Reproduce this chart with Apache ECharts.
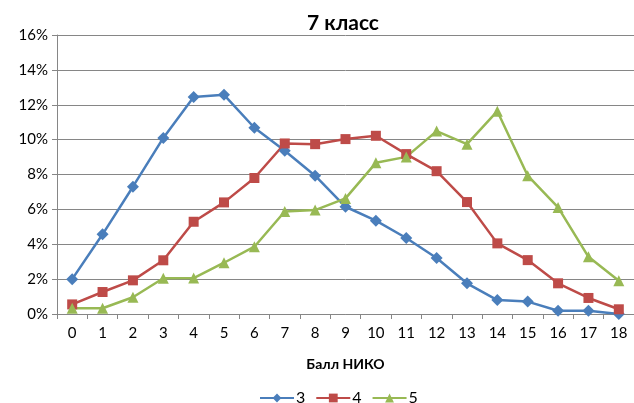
<!DOCTYPE html>
<html><head><meta charset="utf-8">
<script src="https://cdn.jsdelivr.net/npm/echarts@6/dist/echarts.min.js"></script>
<style>html,body{margin:0;padding:0;background:#fff}#c{width:634px;height:403px}</style>
</head><body><div id="c"></div>
<script>
const categories = ['0','1','2','3','4','5','6','7','8','9','10','11','12','13','14','15','16','17','18'];
const s3 = [2.0,4.57,7.3,10.1,12.45,12.57,10.68,9.36,7.93,6.15,5.35,4.36,3.21,1.76,0.80,0.71,0.19,0.19,0.0];
const s4 = [0.55,1.26,1.93,3.08,5.29,6.4,7.8,9.78,9.74,10.03,10.22,9.17,8.19,6.42,4.05,3.09,1.76,0.92,0.27];
const s5 = [0.33,0.33,0.96,2.05,2.06,2.94,3.86,5.88,5.96,6.63,8.67,9.01,10.49,9.74,11.63,7.93,6.11,3.28,1.91];
const seriesNames = ['3','4','5'];
const yTicks = {min:0, max:16, interval:2};

const font = 'Lato, "Open Sans", sans-serif';
const chart = echarts.init(document.getElementById('c'));
function mk(name, data, color, symbol, size){
  return {name, type:'line', data, symbol, symbolSize:size, color,
    lineStyle:{width:2.5, color}, itemStyle:{color}, animation:false};
}
chart.setOption({
  animation:false,
  textStyle:{fontFamily:font},
  title:{text:'7 класс', left:338, top:8, textAlign:'center',
    textStyle:{fontFamily:font, fontSize:21, fontWeight:'bold', color:'#000'}},
  grid:{left:57, right:0, top:35, bottom:89, containLabel:false},
  legend:{data:seriesNames, top:385, left:254, itemWidth:34, itemHeight:11, itemGap:10,
    textStyle:{fontFamily:font, fontSize:16, color:'#000', padding:[0,0,0,-3]}},
  xAxis:{type:'category', data:categories, boundaryGap:true,
    name:'Балл НИКО', nameLocation:'middle', nameGap:43,
    nameTextStyle:{fontFamily:font, fontSize:14, fontWeight:'bold', color:'#000'},
    axisLine:{lineStyle:{color:'#868686', width:1}},
    axisTick:{show:true, length:5, lineStyle:{color:'#868686'}, alignWithLabel:false},
    axisLabel:{fontFamily:font, fontSize:15, color:'#000', margin:12, interval:0}},
  yAxis:{type:'value', min:yTicks.min, max:yTicks.max, interval:yTicks.interval,
    axisLine:{show:true, lineStyle:{color:'#868686'}},
    axisTick:{show:true, length:5, lineStyle:{color:'#868686'}},
    splitLine:{lineStyle:{color:'#868686', width:1}},
    axisLabel:{formatter:'{value}%', fontFamily:font, fontSize:15, color:'#000', margin:9}},
  series:[
    mk(seriesNames[0], s3, '#4A7EBB', 'diamond', 12),
    mk(seriesNames[1], s4, '#BE4B48', 'rect', 10),
    mk(seriesNames[2], s5, '#98B954', 'triangle', 11)
  ]
});
</script></body></html>
